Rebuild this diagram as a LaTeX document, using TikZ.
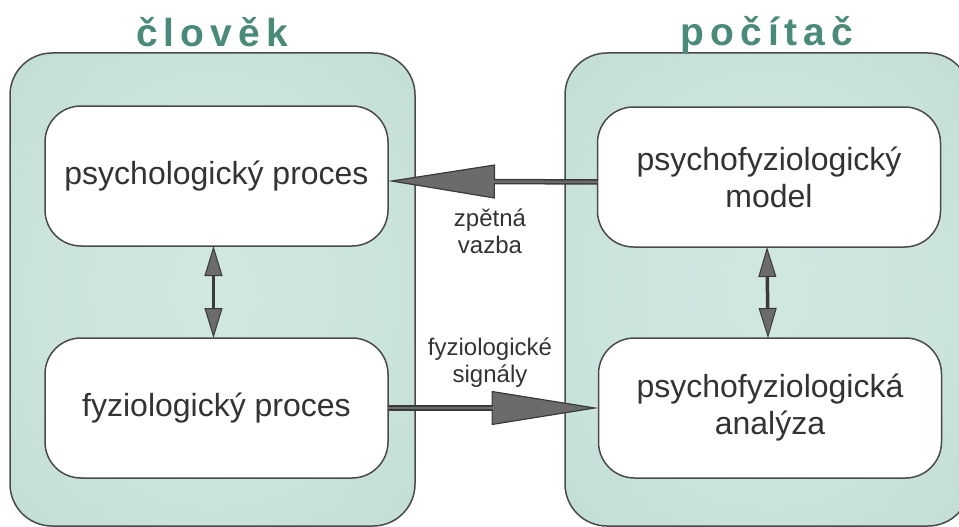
\documentclass[tikz,border=0pt]{standalone}
\usepackage{fontspec}
\setmainfont{Liberation Sans}
\usetikzlibrary{arrows.meta}
\definecolor{tealtxt}{HTML}{4A8A78}
\definecolor{boxin}{HTML}{D1E7E1}
\definecolor{boxout}{HTML}{ADD1C8}
\definecolor{edge}{HTML}{4A4A4A}
\definecolor{txt}{HTML}{333333}
\definecolor{arrfill}{HTML}{6B6B6B}
\definecolor{arrdark}{HTML}{3A3A3A}
\pgfdeclareradialshading{boxshade}{\pgfpoint{0bp}{0bp}}{color(0bp)=(boxin); color(20bp)=(boxin!85!boxout); color(72bp)=(boxout)}
\begin{document}
\begin{tikzpicture}[x=1pt,y=-1pt,
  outerbox/.style={draw=edge, line width=1.5pt, rounded corners=42pt, shading=boxshade, minimum width=405pt, minimum height=473pt, anchor=north west, inner sep=0pt, outer sep=0pt},
  innerbox/.style={draw=edge, line width=1.5pt, rounded corners=36pt, fill=white, minimum width=343pt, minimum height=140pt, align=center, font=\fontsize{32}{37}\selectfont, text=txt, inner sep=0pt, outer sep=0pt},
  titletext/.style={font=\bfseries\fontsize{39}{40}\selectfont, text=tealtxt, anchor=base},
  lbl/.style={font=\fontsize{24}{27}\selectfont, text=txt, align=center},
  bigshaft/.style={draw=arrdark, line width=5.5pt},
  biginner/.style={draw=arrfill, line width=2.5pt, shorten >=105pt},
  bigtip/.style={-{Triangle[length=107pt,width=34pt,line width=1.2pt,fill=arrfill]}},
  smallshaft/.style={draw=arrdark, line width=3.5pt, {Triangle[length=30pt,width=18pt,line width=1pt,fill=arrfill]}-{Triangle[length=30pt,width=18pt,line width=1pt,fill=arrfill]}}
]
\useasboundingbox (0,0) rectangle (959,527);
\clip (0,0) rectangle (959,527);
\node[outerbox] (lo) at (10,53) {};
\node[outerbox] (ro) at (565,53) {};
\node[titletext] (tl) at (212,47) {č\hspace{6pt}l\hspace{6pt}o\hspace{6pt}v\hspace{6pt}ě\hspace{6pt}k};
\node[titletext] (tr) at (767,46) {p\hspace{6pt}o\hspace{6pt}č\hspace{6pt}í\hspace{6pt}t\hspace{6pt}a\hspace{6pt}č};
\node[innerbox] (lt) at (216.5,176) {psychologický proces};
\node[innerbox] (lb) at (216.5,408) {fyziologický proces};
\node[innerbox] (rt) at (769,177) {psychofyziologický\\model};
\node[innerbox] (rb) at (770,408) {psychofyziologická\\analýza};
\draw[bigshaft, bigtip] ([yshift=-5pt]rt.west) -- ([yshift=-5pt]lt.east);
\draw[biginner] ([yshift=-5pt]rt.west) -- ([yshift=-5pt]lt.east);
\draw[bigshaft, bigtip] (lb.east) -- (rb.west);
\draw[biginner] (lb.east) -- (rb.west);
\draw[smallshaft] ([xshift=-3pt]lt.south) -- ([xshift=-3pt]lb.north);
\draw[smallshaft] ([xshift=-2pt]rt.south) -- ([xshift=-2pt]rb.north);
\node[lbl] (fb) at (490,231) {zpětná\\vazba};
\node[lbl] (fs) at (490,363) {fyziologické\\signály};
\end{tikzpicture}
\end{document}
